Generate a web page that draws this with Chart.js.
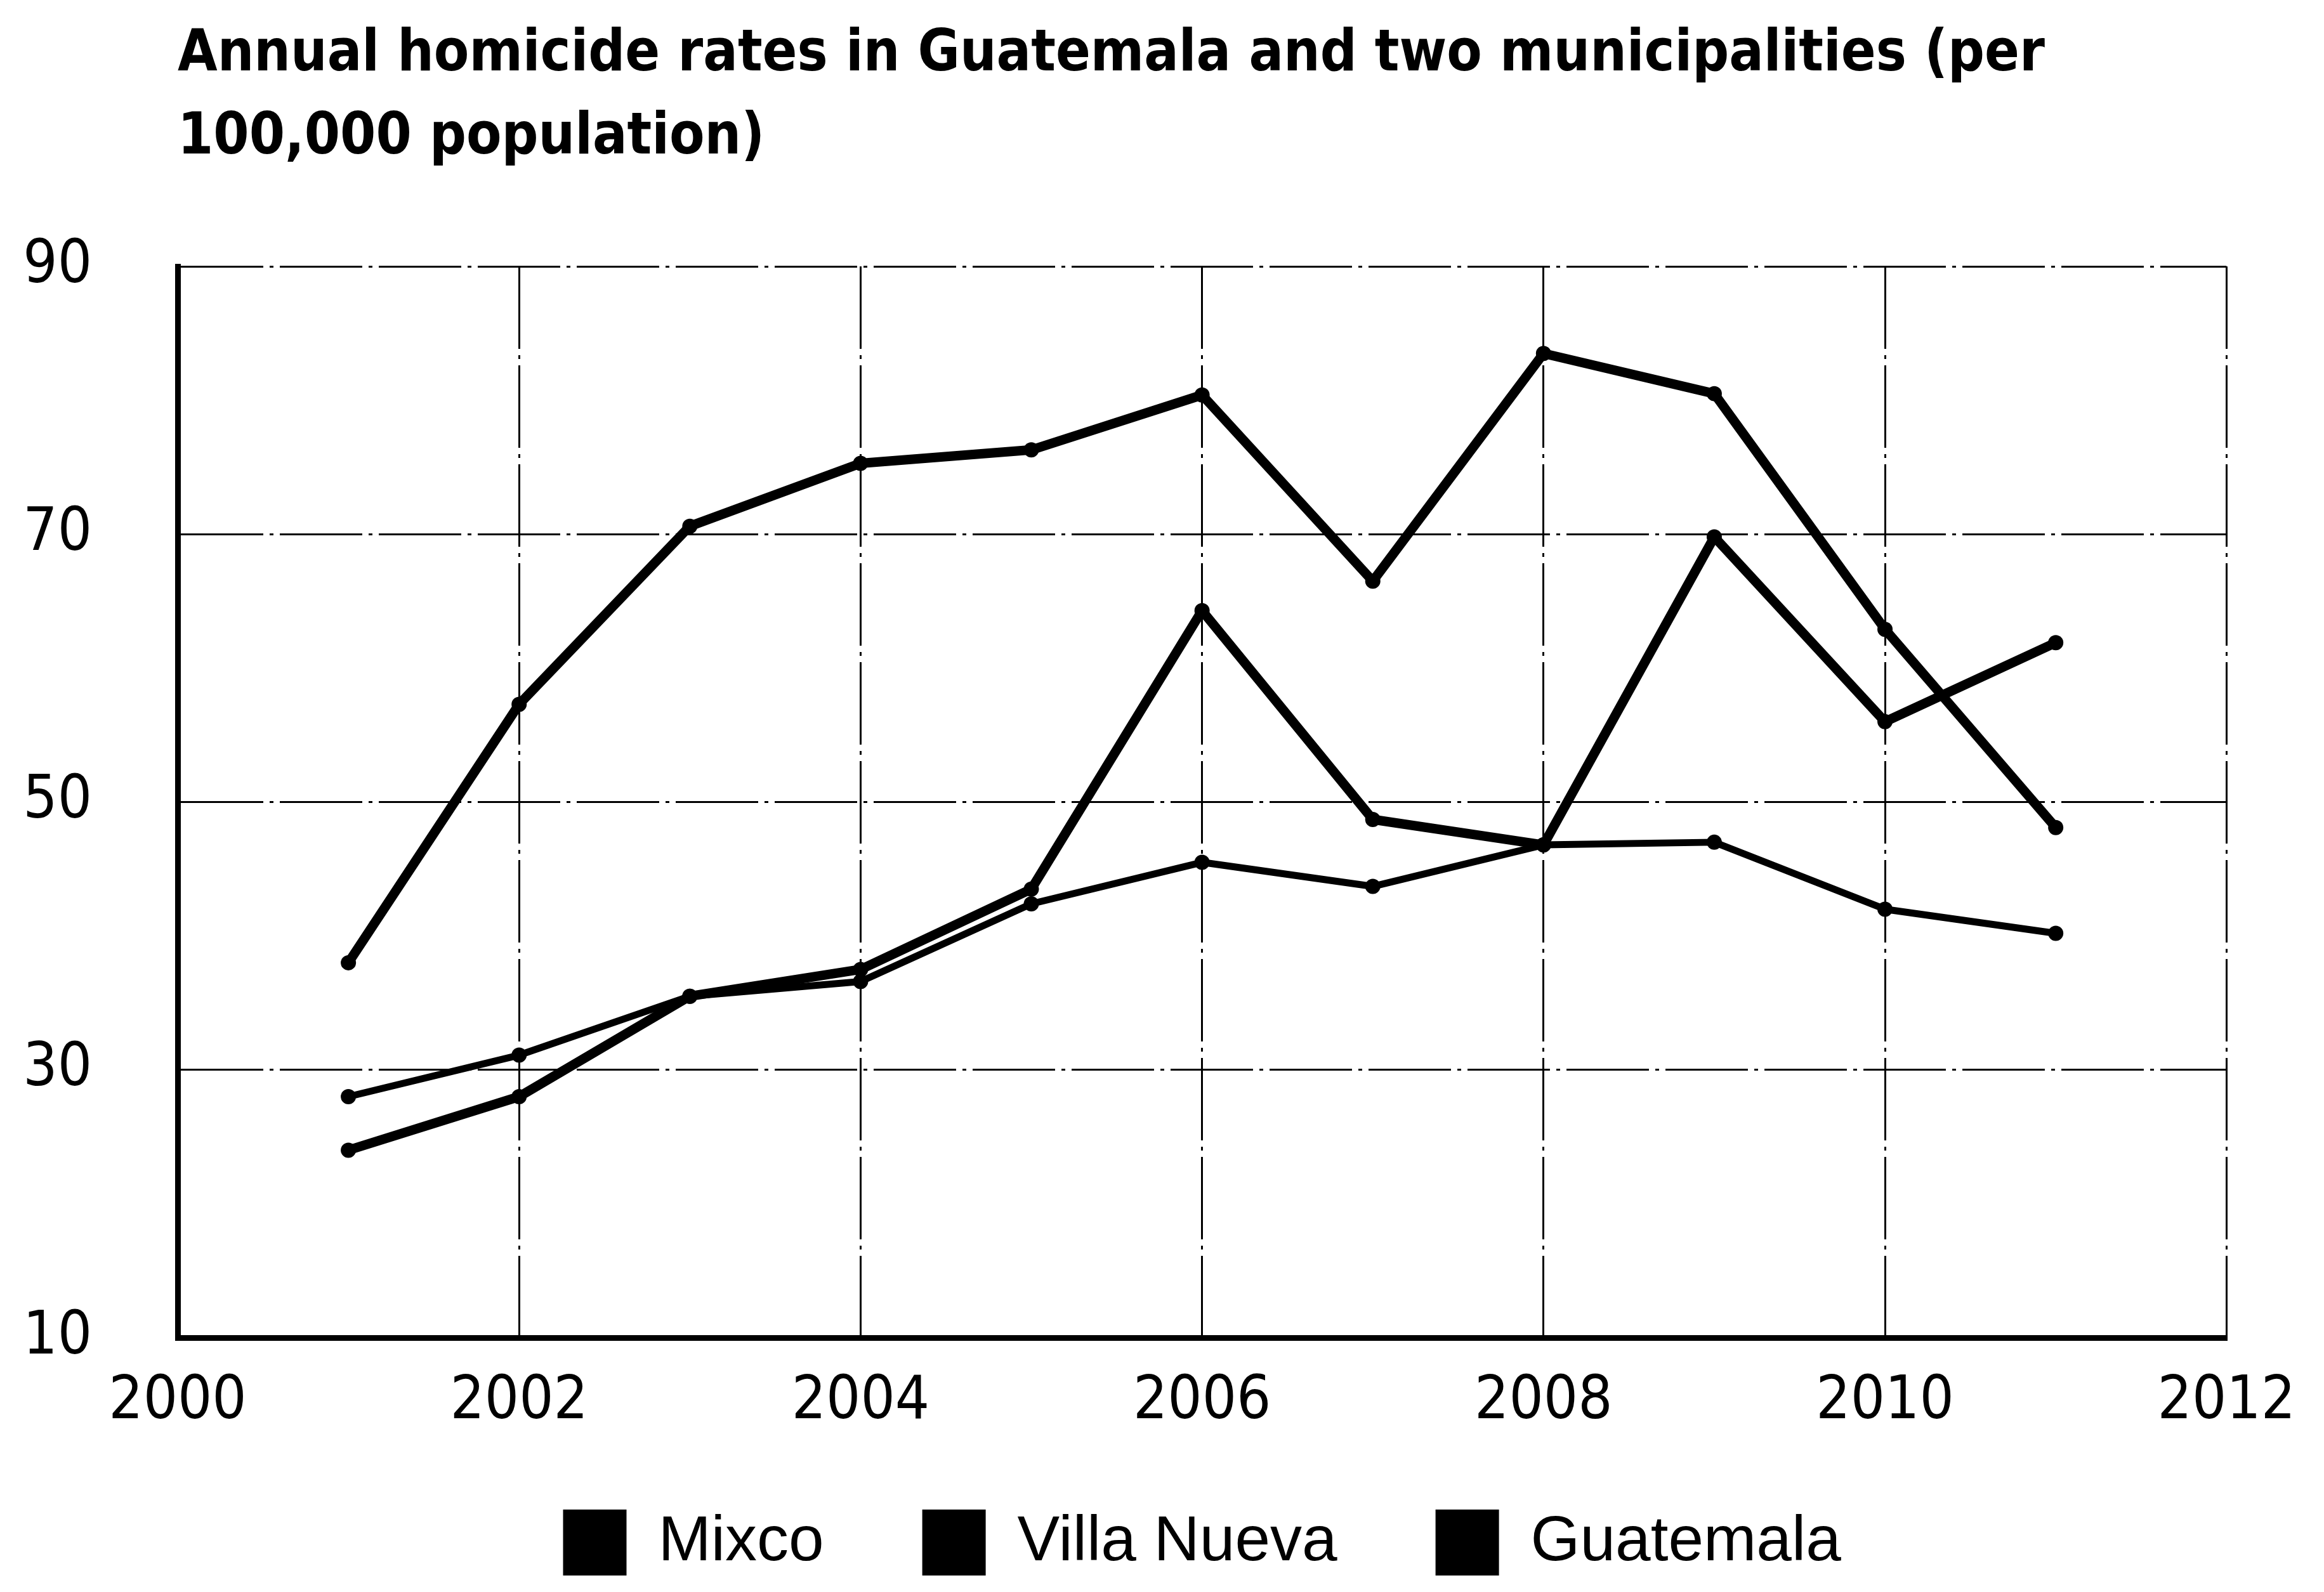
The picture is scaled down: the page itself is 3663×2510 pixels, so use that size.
<!DOCTYPE html>
<html>
<head>
<meta charset="utf-8">
<script src="https://cdn.jsdelivr.net/npm/chart.js@4.4.1/dist/chart.umd.min.js"></script>
<style>
  html, body { margin: 0; padding: 0; background: #fff; }
</style>
</head>
<body>
<canvas id="homicideChart" width="3663" height="2510"></canvas>
<script>
// homicide rates per 100,000 population
const years = [2001, 2002, 2003, 2004, 2005, 2006, 2007, 2008, 2009, 2010, 2011];
const mixco = [24, 28, 35.5, 37.5, 43.5, 64.3, 48.7, 46.8, 69.8, 56.0, 61.9];
const villaNueva = [38, 57.3, 70.6, 75.3, 76.3, 80.4, 66.5, 83.5, 80.5, 62.9, 48.1];
const guatemala = [28, 31.1, 35.5, 36.6, 42.4, 45.5, 43.7, 46.8, 47.0, 42.0, 40.2];

const xTicks = [2000, 2002, 2004, 2006, 2008, 2010, 2012];
const yTicks = [10, 30, 50, 70, 90];

const narrow = "'Liberation Sans Narrow', 'DejaVu Sans Condensed', 'Liberation Sans', sans-serif";

function toPoints(values) {
    return years.map((yr, i) => ({ x: yr, y: values[i] }));
}

function series(label, values, width) {
    return {
        label: label,
        data: toPoints(values),
        borderColor: '#000',
        backgroundColor: '#000',
        borderWidth: width,
        borderJoinStyle: 'round',
        borderCapStyle: 'round',
        pointRadius: 12,
        pointBackgroundColor: '#000',
        pointBorderWidth: 0,
        tension: 0,
        fill: false
    };
}

const ctx = document.getElementById('homicideChart').getContext('2d');

new Chart(ctx, {
    type: 'line',
    data: {
        datasets: [
            series('Mixco', mixco, 15),
            series('Villa Nueva', villaNueva, 15),
            series('Guatemala', guatemala, 11)
        ]
    },
    options: {
        responsive: false,
        animation: false,
        devicePixelRatio: 1,
        layout: { padding: { left: 0, right: 5, top: 0, bottom: 16 } },
        scales: {
            x: {
                type: 'linear',
                min: 2000,
                max: 2012,
                afterBuildTicks: axis => { axis.ticks = xTicks.map(v => ({ value: v })); },
                afterFit: axis => {
                    axis.height = 116;
                    // let the year labels run below the (short) axis box
                    axis._computeLabelArea = () => undefined;
                },
                ticks: {
                    color: '#000',
                    padding: 45,
                    maxRotation: 0,
                    font: { family: narrow, size: 95 },
                    callback: v => String(v)
                },
                grid: { color: '#000', lineWidth: 3, drawTicks: false },
                border: { display: true, color: '#000', width: 9, dash: [130, 10, 6, 10] }
            },
            y: {
                min: 10,
                max: 90,
                afterBuildTicks: axis => { axis.ticks = yTicks.map(v => ({ value: v })); },
                afterFit: axis => { axis.width = 280; },
                ticks: {
                    color: '#000',
                    padding: 135,
                    font: { family: narrow, size: 95 },
                    callback: v => String(v)
                },
                grid: { color: '#000', lineWidth: 3, drawTicks: false },
                border: { display: true, color: '#000', width: 9, dash: [130, 10, 6, 10] }
            }
        },
        plugins: {
            title: {
                display: true,
                fullSize: false,
                align: 'start',
                text: ['Annual homicide rates in Guatemala and two municipalities (per', '100,000 population)'],
                color: '#000',
                font: { family: narrow, size: 90, weight: 'bold', lineHeight: 1.456 },
                padding: { top: 22, bottom: 136 }
            },
            legend: {
                position: 'bottom',
                fullSize: false,
                align: 'center',
                labels: {
                    boxWidth: 100,
                    boxHeight: 104,
                    padding: 155,
                    color: '#000',
                    font: { family: "'Liberation Sans', Arial, sans-serif", size: 100 },
                    generateLabels: chart => Chart.defaults.plugins.legend.labels.generateLabels(chart)
                        .map(item => Object.assign(item, { lineWidth: 0 }))
                }
            },
            tooltip: { enabled: false }
        }
    }
});
</script>
</body>
</html>
